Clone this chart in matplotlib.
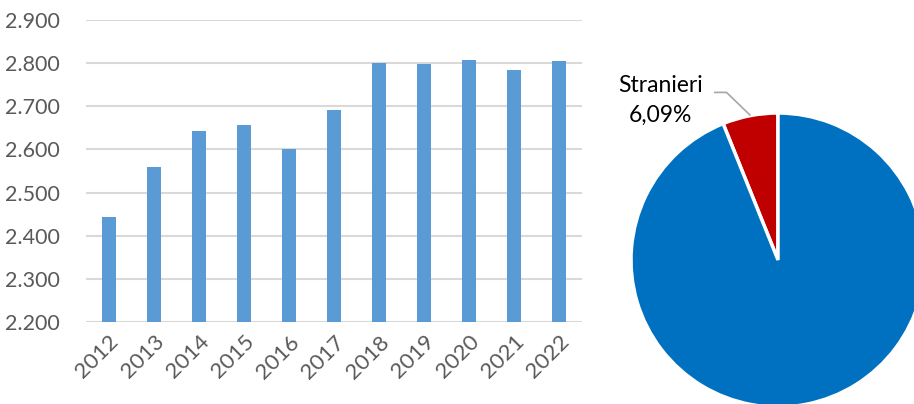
import matplotlib
matplotlib.use("Agg")
import matplotlib.pyplot as plt
import numpy as np

years = ["2012", "2013", "2014", "2015", "2016", "2017", "2018", "2019", "2020", "2021", "2022"]
values = [2443, 2560, 2642, 2656, 2600, 2691, 2800, 2799, 2808, 2783, 2806]
yticks = [2200, 2300, 2400, 2500, 2600, 2700, 2800, 2900]

pie_labels = ["Stranieri", "Italiani"]
pie_values = [6.09, 93.91]
pie_colors = ["#C00000", "#0070C0"]

plt.rcParams['font.family'] = ['Lato', 'DejaVu Sans']

fig = plt.figure(figsize=(9.14, 4.04), dpi=100)

# Bar chart
ax = fig.add_axes([86/914, 1-322/404, (582-86)/914, (322-20)/404])
x = np.arange(len(years))
ax.bar(x, values, width=0.31, color="#5B9BD5", zorder=3)
ax.set_xlim(-0.5, len(years)-0.5)
ax.set_ylim(yticks[0], yticks[-1])
ax.set_yticks(yticks)
ax.set_yticklabels([f"{v/1000:.3f}" for v in yticks], fontsize=15.5, color="#595959")
ax.set_xticks(x)
ax.set_xticklabels(years, rotation=45, ha="right", rotation_mode="anchor", fontsize=16, color="#595959")
ax.tick_params(axis="both", length=0)
ax.tick_params(axis="y", pad=19)
ax.tick_params(axis="x", pad=7)
ax.grid(axis="y", color="#D9D9D9", linewidth=1.5, zorder=0)
for s in ax.spines.values():
    s.set_visible(False)

# Pie chart
r_px = 147
cx, cy = 778, 260
pax = fig.add_axes([(cx-r_px)/914, (404-cy-r_px)/404, 2*r_px/914, 2*r_px/404])
pax.pie(pie_values, colors=pie_colors, startangle=90, counterclock=True,
        wedgeprops=dict(edgecolor="white", linewidth=2.5))
pax.set_xlim(-1, 1)
pax.set_ylim(-1, 1)
pax.set_aspect("equal")
pax.axis("off")

# Label with leader line
mid_ang = np.deg2rad(90 + pie_values[0]/100*360/2)
ex, ey = np.cos(mid_ang)*1.005, np.sin(mid_ang)*1.005
pax.plot([-0.43, -0.35, ex], [1.14, 1.14, ey], color="#A6A6A6", linewidth=1.2, clip_on=False)
pax.text(-0.80, 1.19, pie_labels[0], ha="center", va="center", fontsize=16.5, color="#000000", clip_on=False)
pax.text(-0.80, 0.985, f"{pie_values[0]:.2f}%".replace(".", ","), ha="center", va="center",
         fontsize=16.5, color="#000000", clip_on=False)

fig.savefig("out.png", dpi=100)
